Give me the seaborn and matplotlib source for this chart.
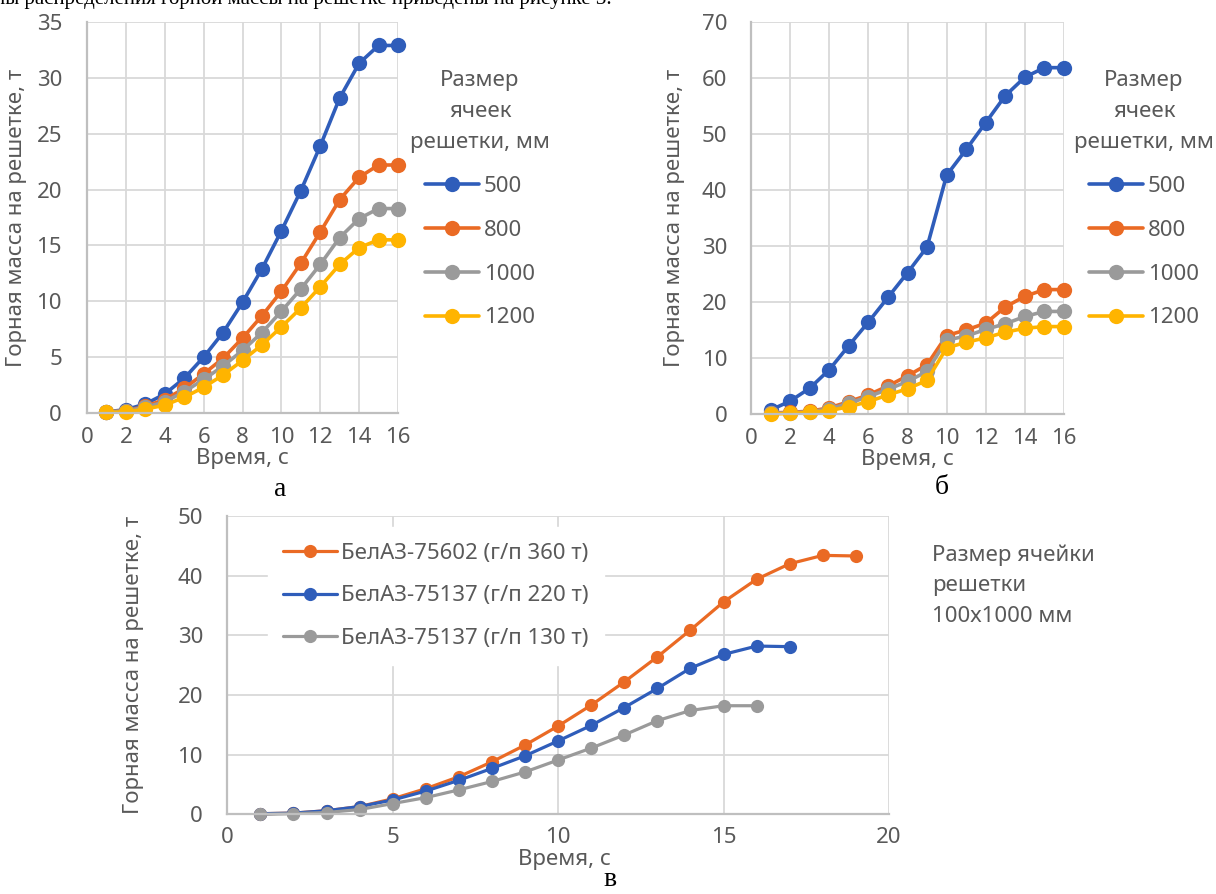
import matplotlib
matplotlib.use('Agg')
import matplotlib.pyplot as plt
import pandas as pd
import seaborn as sns

# Data
time_ab = list(range(1, 17))
sizes = ['500', '800', '1000', '1200']

a_500 = [0.1, 0.3, 0.8, 1.7, 3.1, 5.0, 7.2, 9.9, 12.9, 16.3, 19.9, 23.9, 28.2, 31.3, 32.9, 32.9]
a_800 = [0.1, 0.2, 0.6, 1.2, 2.2, 3.5, 4.9, 6.7, 8.7, 10.9, 13.4, 16.2, 19.1, 21.1, 22.2, 22.2]
a_1000 = [0.1, 0.2, 0.5, 1.0, 1.9, 3.0, 4.2, 5.6, 7.2, 9.1, 11.1, 13.3, 15.7, 17.4, 18.3, 18.3]
a_1200 = [0.05, 0.1, 0.35, 0.7, 1.4, 2.3, 3.4, 4.7, 6.1, 7.7, 9.4, 11.3, 13.3, 14.8, 15.5, 15.5]

b_500 = [0.7, 2.3, 4.6, 7.9, 12.2, 16.4, 20.8, 25.2, 29.8, 42.6, 47.2, 52.0, 56.8, 60.1, 61.8, 61.8]
b_800 = [0.2, 0.3, 0.5, 1.1, 2.2, 3.4, 5.0, 6.8, 8.8, 14.0, 15.0, 16.2, 19.1, 21.0, 22.2, 22.2]
b_1000 = [0.1, 0.2, 0.4, 0.9, 1.9, 3.1, 4.4, 5.8, 7.6, 13.2, 13.9, 15.1, 16.1, 17.4, 18.3, 18.3]
b_1200 = [0.0, 0.1, 0.3, 0.6, 1.3, 2.2, 3.4, 4.5, 6.0, 11.8, 12.8, 13.6, 14.6, 15.3, 15.6, 15.6]

trucks = ['БелАЗ-75602 (г/п 360 т)', 'БелАЗ-75137 (г/п 220 т)', 'БелАЗ-75137 (г/п 130 т)']
c_360 = [0.1, 0.2, 0.6, 1.3, 2.6, 4.3, 6.3, 8.8, 11.6, 14.8, 18.3, 22.2, 26.4, 30.9, 35.6, 39.4, 42.0, 43.4, 43.3]
c_220 = [0.1, 0.2, 0.6, 1.3, 2.4, 3.9, 5.7, 7.7, 9.8, 12.3, 14.9, 17.9, 21.1, 24.5, 26.8, 28.2, 28.1]
c_130 = [0.0, 0.1, 0.3, 0.8, 1.8, 2.8, 4.1, 5.5, 7.1, 9.1, 11.1, 13.3, 15.7, 17.4, 18.2, 18.2]

blue, orange, gray, yellow = '#2F5DBA', '#EA6A24', '#9A9A9A', '#FFB400'
txt = '#595959'
FS = 16

sns.set_theme(style='white')
plt.rcParams['font.family'] = ['Noto Sans', 'DejaVu Sans']


def long_df(groups, names, times):
    parts = []
    for name, vals in zip(names, groups):
        parts.append(pd.DataFrame({'t': times[:len(vals)], 'm': vals, 'g': name}))
    return pd.concat(parts, ignore_index=True)


def style_axes(ax, xmax, xstep, ymax, ystep, ypad, xpad):
    ax.set_xlim(0, xmax)
    ax.set_ylim(0, ymax)
    ax.set_xticks(range(0, xmax + 1, xstep))
    ax.set_yticks(range(0, ymax + 1, ystep))
    ax.grid(True, color='#d9d9d9', lw=1.3)
    ax.set_axisbelow(True)
    for s in ['top', 'right']:
        ax.spines[s].set_visible(False)
    for s in ['left', 'bottom']:
        ax.spines[s].set_color('#bfbfbf')
        ax.spines[s].set_linewidth(1.6)
    ax.tick_params(length=0, labelsize=FS, labelcolor=txt)
    ax.tick_params(axis='y', pad=ypad)
    ax.tick_params(axis='x', pad=xpad)
    ax.set_xlabel('Время, с', fontsize=FS, color=txt, labelpad=0)
    ax.set_ylabel('Горная масса на решетке, т', fontsize=FS, color=txt)
    for ln in ax.lines:
        ln.set_clip_on(False)


fig = plt.figure(figsize=(12.16, 8.94), dpi=100)

# clipped last line of the page text above the figure
fig.text(612 / 1216, 1 - 4 / 894, 'Диаграммы распределения горной массы на решетке приведены на рисунке 3.',
         ha='right', va='baseline', fontsize=15, family='Liberation Serif', color='black')

top_pal = [blue, orange, gray, yellow]

# chart a
ax1 = fig.add_axes([87 / 1216, 1 - 413 / 894, 311 / 1216, 391 / 894])
df_a = long_df([a_500, a_800, a_1000, a_1200], sizes, time_ab)
sns.lineplot(data=df_a, x='t', y='m', hue='g', palette=top_pal, marker='o', markersize=11,
             markeredgewidth=0, linewidth=2.6, legend=False, ax=ax1)
style_axes(ax1, 16, 2, 35, 5, 18, 10)
ax1.yaxis.set_label_coords(-0.193, 0.5)

# chart b
ax2 = fig.add_axes([751 / 1216, 1 - 414 / 894, 313 / 1216, 392.3 / 894])
df_b = long_df([b_500, b_800, b_1000, b_1200], sizes, time_ab)
sns.lineplot(data=df_b, x='t', y='m', hue='g', palette=top_pal, marker='o', markersize=11,
             markeredgewidth=0, linewidth=2.6, legend=False, ax=ax2)
style_axes(ax2, 16, 2, 70, 10, 17, 10)
ax2.yaxis.set_label_coords(-0.211, 0.5)

for ax, xc in [(ax1, 480), (ax2, 1144)]:
    leg = ax.legend(ax.lines, sizes, title='Размер\nячеек\nрешетки, мм', loc='upper center',
                    bbox_to_anchor=(xc / 1216, 1 - 50 / 894), bbox_transform=fig.transFigure,
                    frameon=False, fontsize=FS, title_fontsize=FS, labelspacing=1.03,
                    handlelength=2.43, handletextpad=0.22)
    leg.get_title().set_color(txt)
    leg.get_title().set_linespacing(1.62)
    leg.get_title().set_multialignment('center')
    for t in leg.get_texts():
        t.set_color(txt)

# chart c
ax3 = fig.add_axes([227.3 / 1216, 1 - 814.3 / 894, 661.7 / 1216, 298.3 / 894])
df_c = long_df([c_360, c_220, c_130], trucks, list(range(1, 20)))
sns.lineplot(data=df_c, x='t', y='m', hue='g', palette=[orange, blue, gray], marker='o', markersize=9.5,
             markeredgewidth=0, linewidth=2.3, legend=False, ax=ax3)
style_axes(ax3, 20, 5, 50, 10, 17.5, 9.5)
ax3.xaxis.set_label_coords(0.51, -0.115)
ax3.yaxis.set_label_coords(-0.126, 0.5)
leg3 = ax3.legend(ax3.lines, trucks, loc='upper left', bbox_to_anchor=(0.044, 1.0),
                  frameon=True, facecolor='white', edgecolor='white', framealpha=1,
                  fontsize=FS, labelspacing=0.98, handlelength=2.43, handletextpad=0.18, borderpad=0.7)
for t in leg3.get_texts():
    t.set_color(txt)

fig.text(932 / 1216, 1 - 544 / 894, 'Размер ячейки\nрешетки\n100х1000 мм', ha='left', va='top',
         fontsize=FS, color=txt, linespacing=1.62)

# subfigure letters
for x, y, s in [(280, 490, 'а'), (942, 488, 'б'), (610, 880, 'в')]:
    fig.text(x / 1216, 1 - y / 894, s, ha='center', va='center', fontsize=20,
             family='Liberation Serif', color='black')

fig.savefig('out.png', dpi=100)
